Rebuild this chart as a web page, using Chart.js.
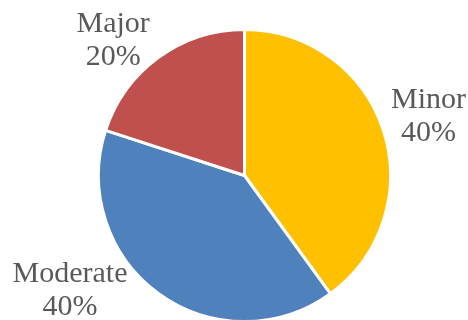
<!DOCTYPE html>
<html>
<head>
<meta charset="utf-8">
<script src="https://cdn.jsdelivr.net/npm/chart.js@4.4.1/dist/chart.umd.min.js"></script>
<style>
  html, body { margin: 0; padding: 0; background: #ffffff; }
  #wrap { width: 468px; height: 320px; }
</style>
</head>
<body>
<div id="wrap"><canvas id="c" width="468" height="320"></canvas></div>
<script>
const categories = ['Minor', 'Moderate', 'Major'];
const values = [40, 40, 20];
const colors = ['#FFC000', '#4F81BD', '#C0504D'];

const FONT = '30px "Liberation Serif", "Times New Roman", serif';
const LINE_H = 33;
const CAP = 20;

const outLabels = {
  id: 'outLabels',
  afterDatasetsDraw(chart) {
    const ctx = chart.ctx;
    const meta = chart.getDatasetMeta(0);
    const total = values.reduce((a, b) => a + b, 0);
    const W = chart.width, H = chart.height;
    ctx.save();
    ctx.font = FONT;
    ctx.fillStyle = '#595959';
    ctx.textAlign = 'center';
    ctx.textBaseline = 'alphabetic';
    meta.data.forEach((arc, i) => {
      const p = arc.getProps(['x', 'y', 'startAngle', 'endAngle', 'outerRadius'], true);
      const r = p.outerRadius - 1.5;
      const mid = (p.startAngle + p.endAngle) / 2;
      const ux = Math.cos(mid), uy = Math.sin(mid);
      const lines = [categories[i], Math.round(values[i] / total * 100) + '%'];
      const w = Math.max(...lines.map(l => ctx.measureText(l).width)) / 2;
      const h = (CAP + LINE_H * (lines.length - 1)) / 2;
      const ext = Math.min(Math.abs(ux) > 1e-6 ? w / Math.abs(ux) : 1e9,
                           Math.abs(uy) > 1e-6 ? h / Math.abs(uy) : 1e9);
      const d = r + 12 + ext;
      let cx = p.x + ux * d, cy = p.y + uy * d;
      // keep inside the canvas
      const topM = 12, botM = 5;
      let clamped = false;
      if (cy - h < topM) { cy = topM + h; clamped = true; }
      if (cy + h > H - botM) { cy = H - botM - h; clamped = true; }
      if (clamped) {
        const R = r + 1;
        const top = cy - h, bot = cy + h;
        let dy = 0;
        if (p.y < top) dy = top - p.y; else if (p.y > bot) dy = p.y - bot;
        const dx = Math.sqrt(Math.max(0, R * R - dy * dy));
        if (ux < 0) cx = Math.min(cx, p.x - dx - w);
        else cx = Math.max(cx, p.x + dx + w);
      }
      cx = Math.max(w + 2, Math.min(W - w - 2, cx));
      const base1 = cy - h + CAP;
      lines.forEach((l, k) => ctx.fillText(l, cx, base1 + k * LINE_H));
    });
    ctx.restore();
  }
};

new Chart(document.getElementById('c'), {
  type: 'pie',
  data: {
    labels: categories,
    datasets: [{
      data: values,
      backgroundColor: colors,
      borderColor: '#ffffff',
      borderWidth: 3,
      clip: false
    }]
  },
  options: {
    responsive: false,
    animation: false,
    radius: 146,
    layout: { padding: { top: 31, bottom: 0, left: 21, right: 0 } },
    plugins: {
      legend: { display: false },
      tooltip: { enabled: false }
    }
  },
  plugins: [outLabels]
});
</script>
</body>
</html>
